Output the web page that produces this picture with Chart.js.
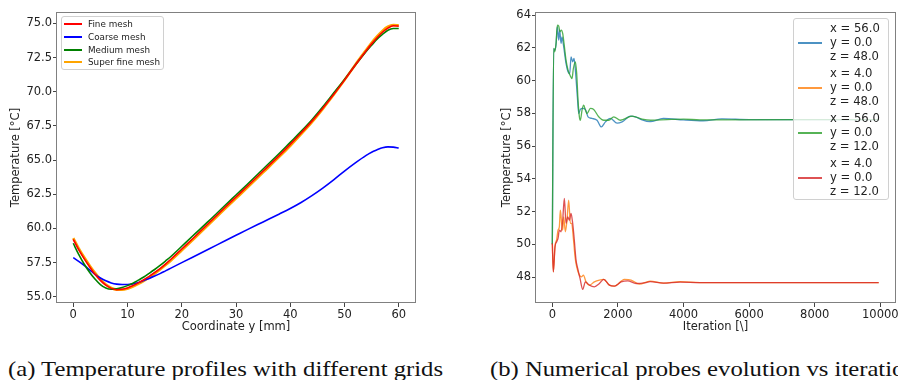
<!DOCTYPE html>
<html lang="en">
<head>
  <meta charset="UTF-8" />
  <title>Mesh study and probes</title>
  <style>
    body { margin: 0; background: #fff; width: 898px; height: 380px; overflow: hidden; position: relative; font-family: "DejaVu Sans", sans-serif; color: #222; }
    canvas { position: absolute; top: 0; }
    #leftChart { left: 0; }
    #rightChart { left: 450px; }
    .legend { position: absolute; background: rgba(255,255,255,0.8); border: 1px solid #d0d0d0; border-radius: 3px; box-sizing: border-box; }
    .legend .sw { position: absolute; height: 2px; }
    .legend .lbl { position: absolute; white-space: pre; }
    #legA { left: 61px; top: 16px; width: 103px; height: 54px; font-size: 8.8px; }
    #legB { left: 793px; top: 18px; width: 96px; height: 182px; font-size: 11.6px; line-height: 13.7px; }
    .cap { position: absolute; top: 357px; display: inline-block; transform-origin: 0 50%; font-family: "Liberation Serif", "DejaVu Serif", serif; font-size: 21px; white-space: nowrap; color: #111; }
  </style>
</head>
<body>
  <canvas id="leftChart" width="450" height="340"></canvas>
  <canvas id="rightChart" width="448" height="340"></canvas>

  <div id="legA" class="legend"></div>
  <div id="legB" class="legend"></div>

  <div class="cap" id="capA" style="left: 8px;">(a) Temperature profiles with different grids</div>
  <div class="cap" id="capB" style="left: 490px;">(b) Numerical probes evolution vs iteration</div>

  <script src="https://cdn.jsdelivr.net/npm/chart.js"></script>
  <script>
    // ---- (a) temperature profiles along y ----
    const coordY = [0, 1, 2, 3, 4, 5, 6, 7, 8, 9, 10, 11, 12, 13, 14, 15, 16, 17, 18, 20, 22, 25, 28, 30, 32, 35, 38, 40, 42, 44, 46, 48, 50, 52, 54, 55, 56, 57, 58, 59, 60];
    const fineMesh = [59.2, 58.45, 57.8, 57.2, 56.65, 56.2, 55.85, 55.62, 55.52, 55.55, 55.65, 55.82, 56.02, 56.25, 56.5, 56.78, 57.07, 57.4, 57.75, 58.5, 59.25, 60.4, 61.55, 62.3, 63.05, 64.2, 65.35, 66.15, 66.98, 67.85, 68.8, 69.8, 70.85, 71.95, 73.0, 73.5, 73.95, 74.35, 74.65, 74.82, 74.8];
    const coarseMesh = [57.87, 57.6, 57.3, 56.98, 56.65, 56.38, 56.17, 56.02, 55.93, 55.9, 55.9, 55.95, 56.05, 56.2, 56.35, 56.52, 56.7, 56.9, 57.1, 57.5, 57.9, 58.5, 59.1, 59.5, 59.9, 60.48, 61.06, 61.46, 61.9, 62.4, 62.95, 63.55, 64.2, 64.8, 65.35, 65.58, 65.75, 65.9, 65.97, 65.95, 65.88];
    const mediumMesh = [58.92, 58.1, 57.4, 56.8, 56.3, 55.9, 55.65, 55.56, 55.58, 55.68, 55.82, 56.0, 56.22, 56.45, 56.72, 57.0, 57.3, 57.62, 57.95, 58.7, 59.45, 60.55, 61.7, 62.45, 63.2, 64.35, 65.5, 66.3, 67.1, 67.95, 68.9, 69.9, 70.9, 71.95, 72.95, 73.4, 73.85, 74.2, 74.5, 74.62, 74.62];
    const superFineMesh = [59.3, 58.55, 57.9, 57.3, 56.75, 56.28, 55.9, 55.65, 55.53, 55.52, 55.6, 55.75, 55.95, 56.17, 56.42, 56.7, 57.0, 57.32, 57.66, 58.4, 59.15, 60.3, 61.45, 62.2, 62.95, 64.1, 65.25, 66.05, 66.9, 67.78, 68.75, 69.78, 70.85, 71.98, 73.05, 73.58, 74.05, 74.45, 74.75, 74.87, 74.85];
    const ticksA_x = [0, 10, 20, 30, 40, 50, 60];
    const ticksA_y = [55.0, 57.5, 60.0, 62.5, 65.0, 67.5, 70.0, 72.5, 75.0];

    // ---- (b) probes vs iteration ----
    const iterP1 = [0, 42, 72, 113, 154, 194, 225, 266, 296, 347, 418, 479, 530, 571, 622, 662, 703, 764, 804, 855, 926, 1008, 1089, 1211, 1363, 1496, 1618, 1771, 1974, 2127, 2381, 2534, 2737, 2980, 3387, 4000, 4600, 5170, 6000, 9950];
    const tempP1 = [50.0, 61.95, 61.85, 62.2, 63.29, 62.47, 63.08, 62.27, 62.67, 62.07, 61.05, 60.54, 60.43, 61.45, 61.15, 61.35, 60.64, 59.01, 57.99, 58.24, 58.3, 58.24, 57.79, 57.69, 57.58, 57.17, 57.48, 57.69, 57.4, 57.48, 57.83, 57.79, 57.6, 57.49, 57.69, 57.6, 57.55, 57.66, 57.62, 57.62];
    const iterP2 = [0, 31, 82, 134, 174, 214, 245, 285, 316, 347, 397, 448, 499, 550, 591, 642, 693, 743, 825, 896, 947, 1028, 1130, 1282, 1435, 1567, 1740, 1893, 2198, 2402, 2656, 2980, 3387, 3895, 4500, 9950];
    const tempP2 = [50.06, 48.32, 49.9, 50.3, 50.87, 51.07, 52.09, 51.28, 50.87, 51.68, 50.77, 51.48, 52.7, 51.28, 51.28, 50.36, 49.24, 48.63, 48.12, 48.02, 48.12, 47.71, 47.51, 47.71, 47.82, 47.86, 47.51, 47.45, 47.86, 47.82, 47.57, 47.76, 47.63, 47.72, 47.66, 47.67];
    const iterP3 = [0, 42, 72, 113, 154, 194, 235, 276, 316, 357, 418, 479, 540, 601, 642, 703, 743, 784, 825, 855, 906, 957, 1008, 1059, 1160, 1262, 1414, 1567, 1720, 1873, 2076, 2432, 2737, 3000, 3500, 4000, 4500, 9950];
    const tempP3 = [50.0, 61.97, 61.76, 62.27, 63.39, 63.33, 62.98, 63.08, 62.88, 62.27, 61.25, 60.64, 60.33, 60.13, 60.74, 61.15, 60.44, 58.81, 57.79, 57.58, 58.2, 58.5, 58.2, 57.99, 58.3, 58.24, 57.79, 57.58, 57.58, 57.79, 57.58, 57.83, 57.65, 57.58, 57.62, 57.65, 57.6, 57.62];
    const iterP4 = [0, 31, 82, 134, 174, 214, 265, 316, 367, 418, 469, 520, 570, 621, 662, 723, 774, 845, 927, 1008, 1130, 1282, 1435, 1567, 1740, 1893, 2097, 2300, 2554, 2860, 2980, 3387, 3895, 4500, 9950];
    const tempP4 = [50.06, 48.32, 49.85, 50.16, 50.36, 50.87, 50.77, 51.48, 52.8, 51.28, 51.68, 51.48, 51.89, 51.28, 50.46, 49.04, 48.53, 47.92, 47.25, 47.71, 47.51, 47.41, 47.61, 47.86, 47.51, 47.45, 47.71, 47.77, 47.61, 47.67, 47.72, 47.63, 47.7, 47.66, 47.67];
    const ticksB_x = [0, 2000, 4000, 6000, 8000, 10000];
    const ticksB_y = [48, 50, 52, 54, 56, 58, 60, 62, 64];

    const probeLabels = [
      'x = 56.0\ny = 0.0\nz = 48.0',
      'x = 4.0\ny = 0.0\nz = 48.0',
      'x = 56.0\ny = 0.0\nz = 12.0',
      'x = 4.0\ny = 0.0\nz = 12.0'
    ];

    const FONT = { family: 'DejaVu Sans', size: 11.5 };

    const framePlugin = {
      id: 'frame',
      afterDraw(chart) {
        const a = chart.chartArea, c = chart.ctx;
        c.save();
        c.strokeStyle = '#808080';
        c.lineWidth = 1;
        c.strokeRect(Math.round(a.left) - 0.5, Math.round(a.top) + 0.5, Math.round(a.right - a.left) + 1, Math.round(a.bottom - a.top) - 1);
        c.restore();
      }
    };

    function pts(xs, ys) { return xs.map((x, i) => ({ x: x, y: ys[i] })); }

    function axis(min, max, tickVals, fmt, title, size, titlePad) {
      return {
        type: 'linear', min: min, max: max,
        afterBuildTicks: s => { s.ticks = tickVals.map(v => ({ value: v })); },
        afterFit: s => {
          if (s.isHorizontal()) { s.height = size; s.paddingLeft = 0; s.paddingRight = 0; }
          else { s.width = size; s.paddingTop = 0; s.paddingBottom = 0; }
        },
        grid: { drawOnChartArea: false, drawTicks: true, tickLength: 4, tickColor: '#444' },
        border: { display: false },
        ticks: { color: '#222', font: FONT, padding: 1, maxRotation: 0, autoSkip: false, callback: fmt },
        title: { display: true, text: title, color: '#222', font: FONT, padding: titlePad }
      };
    }

    function baseOpts(pad, xs, ys) {
      return {
        responsive: false, animation: false,
        layout: { padding: pad },
        plugins: { legend: { display: false }, tooltip: { enabled: false } },
        elements: { point: { radius: 0 }, line: { cubicInterpolationMode: 'monotone' } },
        scales: { x: xs, y: ys }
      };
    }

    function line(data, color, width, order) {
      return { data: data, borderColor: color, borderWidth: width, fill: false, order: order };
    }

    // left chart
    new Chart(document.getElementById('leftChart'), {
      type: 'line',
      data: {
        datasets: [
          line(pts(coordY, fineMesh), '#ff0000', 1.6, 1),
          line(pts(coordY, coarseMesh), '#0000ff', 1.6, 3),
          line(pts(coordY, mediumMesh), '#008000', 1.6, 2),
          line(pts(coordY, superFineMesh), '#ffa500', 2.6, 4)
        ]
      },
      options: baseOpts({ left: 4, top: 12, right: 35, bottom: 6 },
        axis(-3, 63, ticksA_x, v => String(v), 'Coordinate y [mm]', 31, { top: 0, bottom: 0 }),
        axis(54.55, 75.83, ticksA_y, v => v.toFixed(1), 'Temperature [°C]', 53, { top: 5, bottom: 0 })),
      plugins: [framePlugin]
    });

    // right chart
    new Chart(document.getElementById('rightChart'), {
      type: 'line',
      data: {
        datasets: [
          line(pts(iterP1, tempP1), 'rgba(31,119,180,0.8)', 1.3, 4),
          line(pts(iterP2, tempP2), 'rgba(255,127,14,0.8)', 1.3, 3),
          line(pts(iterP3, tempP3), 'rgba(44,160,44,0.8)', 1.3, 2),
          line(pts(iterP4, tempP4), 'rgba(214,39,40,0.8)', 1.3, 1)
        ]
      },
      options: baseOpts({ left: 45, top: 12, right: 3, bottom: 6 },
        axis(-497.5, 10447.5, ticksB_x, v => String(v), 'Iteration [\\]', 31, { top: 0, bottom: 0 }),
        axis(46.42, 64.19, ticksB_y, v => String(v), 'Temperature [°C]', 41, { top: 5, bottom: 0 })),
      plugins: [framePlugin]
    });

    // legends
    const legA = document.getElementById('legA');
    const namesA = ['Fine mesh', 'Coarse mesh', 'Medium mesh', 'Super fine mesh'];
    const colorsA = ['#ff0000', '#0000ff', '#008000', '#ffa500'];
    namesA.forEach((n, i) => {
      const cy = 22.7 + i * 12.9 - 16;
      legA.insertAdjacentHTML('beforeend',
        '<div class="sw" style="left:2px;width:18px;top:' + (cy - 1) + 'px;background:' + colorsA[i] + '"></div>' +
        '<div class="lbl" style="left:26px;top:' + (cy - 6) + 'px;line-height:12px">' + n + '</div>');
    });

    const legB = document.getElementById('legB');
    const colorsB = ['rgba(31,119,180,0.8)', 'rgba(255,127,14,0.8)', 'rgba(44,160,44,0.8)', 'rgba(214,39,40,0.8)'];
    probeLabels.forEach((t, i) => {
      const mid = 41.7 + i * 45 - 18;
      legB.insertAdjacentHTML('beforeend',
        '<div class="sw" style="left:4px;width:24px;top:' + (mid - 1) + 'px;background:' + colorsB[i] + '"></div>' +
        '<div class="lbl" style="left:36px;top:' + (mid - 13.7 * 1.5) + 'px">' + t + '</div>');
    });

    // stretch the captions to the width of the LaTeX ones
    const capA = document.getElementById('capA');
    const stretch = 435 / capA.getBoundingClientRect().width;
    ['capA', 'capB'].forEach(id => {
      document.getElementById(id).style.transform = 'scaleX(' + stretch + ')';
    });
  </script>
</body>
</html>
